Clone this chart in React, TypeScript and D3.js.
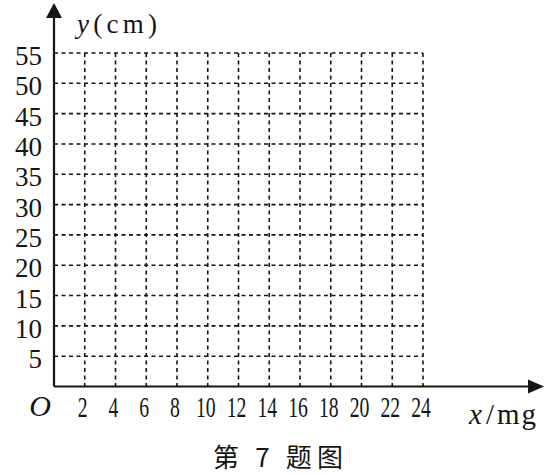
import React from "react";
import * as d3 from "d3";

const xTicks = [2, 4, 6, 8, 10, 12, 14, 16, 18, 20, 22, 24];
const yTicks = [5, 10, 15, 20, 25, 30, 35, 40, 45, 50, 55];
const xMax = 24;
const yMax = 55;
const xAxisLabel = "x";
const xAxisUnit = "mg";
const yAxisLabel = "y";
const yAxisUnit = "(cm)";
const caption = "第 7 题图";
const originLabel = "O";

export default function App() {
  const W = 552, H = 475;
  const x = d3.scaleLinear().domain([0, xMax]).range([54, 423]);
  const y = d3.scaleLinear().domain([0, yMax]).range([386.5, 53]);
  const ink = "#151515";
  const serifStyle = { fontFamily: "Liberation Serif" };
  const x0 = x(0), y0 = y(0);
  return (
    <svg width={W} height={H} style={{ position: "absolute", left: 0, top: 0, background: "#fff" }}>
      {/* grid */}
      {xTicks.map((t) => (
        <line key={"vx" + t} x1={x(t)} x2={x(t)} y1={y(yMax)} y2={y0} stroke={ink} strokeWidth={1.6} strokeDasharray="4 3.5" />
      ))}
      {yTicks.map((t) => (
        <line key={"hy" + t} x1={x0} x2={x(xMax)} y1={y(t)} y2={y(t)} stroke={ink} strokeWidth={1.6} strokeDasharray="4 3.5" />
      ))}
      {/* axes */}
      <line x1={x0} x2={x0} y1={y0} y2={12} stroke={ink} strokeWidth={2.2} />
      <line x1={x0} x2={534} y1={y0} y2={y0} stroke={ink} strokeWidth={2.2} />
      <path d={`M${x0},3 L${x0 - 8},18 L${x0 + 8},18 Z`} fill={ink} />
      <path d={`M544,${y0} L528,${y0 - 7} L528,${y0 + 7} Z`} fill={ink} />
      {/* y tick labels */}
      {yTicks.map((t) => (
        <text key={"yl" + t} x={42} y={y(t) + 12} textAnchor="end" style={serifStyle} fontSize={27} fill={ink}>
          {String(t)}
        </text>
      ))}
      {/* x tick labels */}
      {xTicks.map((t) => (
        <text key={"xl" + t} transform={`translate(${x(t) - 2},417) scale(0.68,1)`} textAnchor="middle" style={serifStyle} fontSize={29} fill={ink}>
          {String(t)}
        </text>
      ))}
      <text x={40} y={416} textAnchor="middle" style={serifStyle} fontStyle="italic" fontSize={30} fill={ink}>
        {originLabel}
      </text>
      {/* axis titles */}
      <text x={77} y={33} style={serifStyle} fontSize={27} fill={ink} textLength={80} lengthAdjust="spacing">
        <tspan fontStyle="italic">{yAxisLabel}</tspan>
        <tspan>{yAxisUnit}</tspan>
      </text>
      <text x={469} y={424} style={serifStyle} fontSize={29} fill={ink}>
        <tspan fontStyle="italic">{xAxisLabel}</tspan>
        <tspan dx={4}>/</tspan>
        <tspan dx={3} letterSpacing={2}>{xAxisUnit}</tspan>
      </text>
      <text x={213} y={467} style={{ fontFamily: "Noto Sans CJK SC" }} fontSize={26} fill={ink} textLength={130} lengthAdjust="spacing">
        {caption}
      </text>
    </svg>
  );
}
